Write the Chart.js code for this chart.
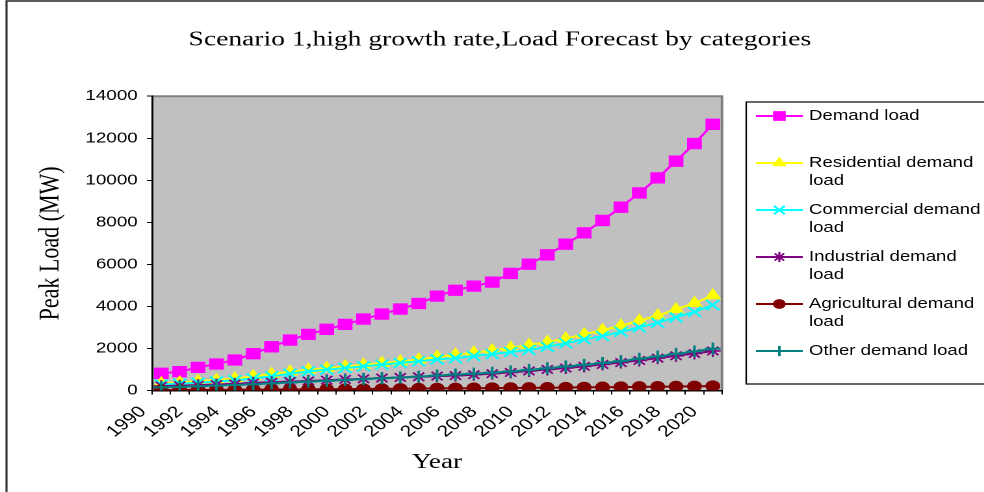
<!DOCTYPE html>
<html>
<head>
<meta charset="utf-8">
<script src="https://cdn.jsdelivr.net/npm/chart.js@4.4.0/dist/chart.umd.min.js"></script>
<style>
  html, body { margin: 0; padding: 0; background: #fff; overflow: hidden; width: 984px; height: 492px; }
  /* the chart is laid out at 757px wide and stretched to the full 984px page width */
  #wrap { position: absolute; left: 0; top: 0; width: 757px; height: 492px; transform: scaleX(1.3); transform-origin: 0 0; }
  canvas { display: block; }
</style>
</head>
<body>
<div id="wrap"><canvas id="c" width="757" height="492"></canvas></div>
<script>
// Forecast years (category axis) - every second one is labelled
const years = ['1990','1991','1992','1993','1994','1995','1996','1997','1998','1999',
               '2000','2001','2002','2003','2004','2005','2006','2007','2008','2009',
               '2010','2011','2012','2013','2014','2015','2016','2017','2018','2019','2020'];

// Peak load per category, MW
const demandLoad       = [818, 895, 1100, 1260, 1450, 1750, 2080, 2400, 2670, 2910, 3145, 3400, 3635, 3875, 4140, 4490,
                          4770, 4965, 5155, 5570, 6010, 6455, 6960, 7500, 8090, 8720, 9400, 10115, 10910, 11750, 12665];
const residentialLoad  = [340, 380, 440, 500, 570, 670, 780, 890, 990, 1060, 1140, 1220, 1300, 1380, 1470, 1600,
                          1700, 1800, 1910, 2030, 2160, 2310, 2470, 2670, 2870, 3080, 3320, 3560, 3860, 4150, 4520];
const commercialLoad   = [290, 320, 370, 430, 490, 570, 680, 800, 910, 990, 1070, 1150, 1230, 1310, 1390, 1480,
                          1540, 1640, 1735, 1830, 1930, 2080, 2245, 2435, 2590, 2795, 3005, 3220, 3480, 3745, 4065];
const industrialLoad   = [210, 230, 255, 285, 315, 360, 395, 425, 455, 490, 525, 555, 590, 620, 650, 685,
                          710, 750, 800, 860, 930, 1000, 1070, 1150, 1240, 1330, 1430, 1540, 1650, 1760, 1880];
const agriculturalLoad = [20, 24, 28, 32, 36, 40, 45, 50, 55, 60, 65, 70, 76, 82, 90, 100,
                          105, 110, 115, 120, 125, 132, 140, 148, 155, 163, 172, 180, 190, 200, 210];
const otherLoad        = [150, 170, 200, 230, 260, 300, 340, 380, 420, 460, 500, 540, 580, 620, 660, 715,
                          760, 800, 850, 910, 980, 1060, 1140, 1220, 1310, 1400, 1510, 1620, 1740, 1860, 1990];

// Y axis range and tick step
const yMin = 0, yMax = 14000, yStep = 2000;

const SERIF = '"Liberation Serif", "Times New Roman", serif';
const SANS  = '"Liberation Sans", Arial, sans-serif';

const CANVAS_W = 757;
const PLOT_RIGHT = 555.4;

function series(label, data, color, style, radius, borderW, order) {
  return {
    label, data, order,
    borderColor: color, backgroundColor: color,
    borderWidth: 2, tension: 0, fill: false,
    pointStyle: style, pointRadius: radius, pointHoverRadius: radius,
    pointBackgroundColor: color, pointBorderColor: color, pointBorderWidth: borderW
  };
}

// Grey plot panel and the outer chart frame
const plotFrame = {
  id: 'plotFrame',
  beforeDraw(chart) {
    const { ctx, chartArea: a } = chart;
    ctx.save();
    ctx.strokeStyle = '#333';
    ctx.lineWidth = 1.6;
    ctx.strokeRect(5, 1, chart.width + 20, chart.height + 20);
    ctx.fillStyle = '#C0C0C0';
    ctx.fillRect(a.left, a.top, a.right - a.left, a.bottom - a.top);
    ctx.strokeStyle = '#808080';
    ctx.lineWidth = 2;
    ctx.beginPath();
    ctx.moveTo(a.left, a.top);
    ctx.lineTo(a.right, a.top);
    ctx.lineTo(a.right, a.bottom);
    ctx.stroke();
    ctx.restore();
  }
};

// Boxed legend on the right with wrapped series names
const sideLegend = {
  id: 'sideLegend',
  afterDraw(chart) {
    const ctx = chart.ctx;
    const boxLeft = 574, boxTop = 102, boxBottom = 384;
    const lineX0 = 581.5, lineX1 = 617.5, markX = 599.5, textX = 622.3;
    const firstY = 116, entryGap = 47, lineGap = 18, wrapWidth = 140;
    ctx.save();
    ctx.strokeStyle = '#000';
    ctx.lineWidth = 1.2;
    ctx.strokeRect(boxLeft, boxTop, chart.width - boxLeft + 20, boxBottom - boxTop);
    ctx.font = '14.3px ' + SANS;
    ctx.textBaseline = 'middle';
    ctx.textAlign = 'left';
    chart.data.datasets.forEach((ds, i) => {
      const y = firstY + i * entryGap;
      ctx.strokeStyle = ds.borderColor;
      ctx.lineWidth = 2;
      ctx.beginPath();
      ctx.moveTo(lineX0, y);
      ctx.lineTo(lineX1, y);
      ctx.stroke();
      ctx.fillStyle = ds.pointBackgroundColor;
      ctx.strokeStyle = ds.pointBorderColor;
      ctx.lineWidth = ds.pointBorderWidth;
      Chart.helpers.drawPoint(ctx, { pointStyle: ds.pointStyle, radius: ds.pointRadius * 0.85, borderWidth: ds.pointBorderWidth, rotation: 0 }, markX, y);
      // greedy word wrap
      const words = ds.label.split(' ');
      const lines = [];
      let cur = '';
      words.forEach(w => {
        const t = cur ? cur + ' ' + w : w;
        if (cur && ctx.measureText(t).width > wrapWidth) { lines.push(cur); cur = w; }
        else cur = t;
      });
      if (cur) lines.push(cur);
      ctx.fillStyle = '#000';
      lines.forEach((ln, k) => ctx.fillText(ln, textX, y + k * lineGap));
    });
    ctx.restore();
  }
};

new Chart(document.getElementById('c'), {
  type: 'line',
  data: {
    labels: years,
    datasets: [
      series('Demand load', demandLoad, '#FF00FF', 'rect', 7.3, 1, 6),
      series('Residential demand load', residentialLoad, '#FFFF00', 'triangle', 6.5, 1, 5),
      series('Commercial demand load', commercialLoad, '#00FFFF', 'crossRot', 7, 1.8, 4),
      series('Industrial demand load', industrialLoad, '#800080', 'star', 6, 1.6, 3),
      series('Agricultural demand load', agriculturalLoad, '#800000', 'circle', 5.2, 1, 2),
      series('Other demand load', otherLoad, '#008080', 'cross', 6, 2, 1)
    ]
  },
  options: {
    responsive: false,
    animation: false,
    devicePixelRatio: 2,
    layout: { padding: { left: 12, top: 0, right: 0, bottom: 0 } },
    plugins: {
      legend: { display: false },
      tooltip: { enabled: false },
      title: {
        display: true,
        text: 'Scenario 1,high growth rate,Load Forecast by categories',
        color: '#000',
        font: { family: SERIF, size: 21.2, weight: 'normal' },
        padding: { top: 27.4, bottom: 43.4 }
      }
    },
    scales: {
      x: {
        type: 'category',
        offset: true,
        grid: { offset: true, drawOnChartArea: false, color: '#000', tickLength: 4, tickWidth: 1 },
        border: { color: '#000', width: 1.5 },
        ticks: {
          autoSkip: false, minRotation: 45, maxRotation: 45,
          color: '#000', font: { family: SANS, size: 16 }, padding: 8, labelOffset: -14,
          callback: (v, i) => (i % 2 === 0 ? years[i] : '')
        },
        title: { display: true, text: 'Year', color: '#000', font: { family: SERIF, size: 21 }, padding: { top: 0, bottom: 17 } },
        afterFit: s => { s.height = 101.5; }
      },
      y: {
        min: yMin, max: yMax,
        grid: { drawOnChartArea: false, color: '#000', tickLength: 4, tickWidth: 1 },
        border: { color: '#000', width: 1.5 },
        ticks: { stepSize: yStep, color: '#000', font: { family: SANS, size: 14.5 }, padding: 7, callback: v => String(v) },
        title: { display: true, text: 'Peak Load (MW)', color: '#000', font: { family: SERIF, size: 22 }, padding: { top: 14, bottom: 0 } },
        afterFit: s => { s.width = 105; }
      },
      legendSpace: {
        position: 'right',
        display: true,
        grid: { display: false },
        border: { display: false },
        ticks: { display: false },
        afterFit: s => { s.width = CANVAS_W - PLOT_RIGHT; }
      }
    }
  },
  plugins: [plotFrame, sideLegend]
});
</script>
</body>
</html>
